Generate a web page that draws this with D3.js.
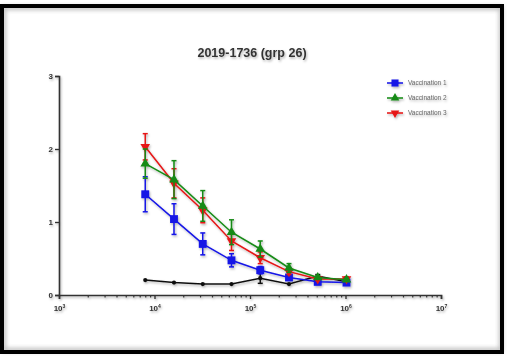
<!DOCTYPE html>
<html>
<head>
<meta charset="utf-8">
<script src="https://cdn.jsdelivr.net/npm/d3@7"></script>
<style>
  body { margin: 0; background: #fff; }
  svg { display: block; font-family: "Liberation Sans", Arial, sans-serif; }
</style>
</head>
<body>
<div id="chart"></div>
<script>
// dilutions (x values)
const dilutions = [8000, 16000, 32000, 64000, 128000, 256000, 512000, 1024000];

// series means and error (sd)
const vacc1 = [1.38, 1.04, 0.70, 0.475, 0.34, 0.24, 0.18, 0.17];
const vacc1Err = [0.24, 0.21, 0.15, 0.09, 0.05, 0.03, 0.02, 0.02];
const vacc2 = [1.80, 1.58, 1.22, 0.86, 0.63, 0.37, 0.24, 0.21];
const vacc2Err = [0.20, 0.26, 0.21, 0.17, 0.11, 0.06, 0.02, 0.02];
const vacc3 = [2.03, 1.53, 1.16, 0.74, 0.51, 0.32, 0.22, 0.22];
const vacc3Err = [0.18, 0.20, 0.17, 0.13, 0.08, 0.04, 0.02, 0.03];
const control = [0.205, 0.17, 0.15, 0.15, 0.23, 0.15, 0.26, 0.18];
const controlErr = [0, 0, 0, 0, 0.07, 0, 0.02, 0];

const xTicks = [1e3, 1e4, 1e5, 1e6, 1e7];
const yTicks = [0, 1, 2, 3];
const title = "2019-1736 (grp 26)";

const series = [
  { name: "Vaccination 1", values: vacc1, err: vacc1Err, color: "#1414e6", symbol: d3.symbolSquare, size: 62, legend: true },
  { name: "Vaccination 2", values: vacc2, err: vacc2Err, color: "#148a14", symbol: d3.symbolTriangle, size: 40, legend: true },
  { name: "Vaccination 3", values: vacc3, err: vacc3Err, color: "#e61414", symbol: d3.symbolTriangle, size: 40, flip: true, legend: true },
  { name: "Control", values: control, err: controlErr, color: "#111", symbol: d3.symbolCircle, size: 14, legend: false }
];

const width = 507, height = 356;
const svg = d3.select("#chart").append("svg")
  .attr("width", width).attr("height", height);

const defs = svg.append("defs");
const shadow = defs.append("filter").attr("id", "shadow")
  .attr("x", "-20%").attr("y", "-20%").attr("width", "140%").attr("height", "140%");
shadow.append("feGaussianBlur").attr("in", "SourceGraphic").attr("stdDeviation", 0.4).attr("result", "b");
shadow.append("feDropShadow").attr("in", "b").attr("dx", 1).attr("dy", 1.5)
  .attr("stdDeviation", 1.2).attr("flood-color", "#000").attr("flood-opacity", 0.3);

// frame with inner shading
const inner = defs.append("filter").attr("id", "inner");
inner.append("feGaussianBlur").attr("stdDeviation", 2);
svg.append("rect").attr("x", 4).attr("y", 8).attr("width", 497).attr("height", 342)
  .attr("fill", "none").attr("stroke", "#bbb").attr("stroke-width", 4).attr("filter", "url(#inner)");
svg.append("rect").attr("x", 2).attr("y", 6).attr("width", 500).attr("height", 346)
  .attr("fill", "none").attr("stroke", "#000").attr("stroke-width", 4);

const x = d3.scaleLog().domain([1e3, 1e7]).range([59, 441]);
const y = d3.scaleLinear().domain([0, 3]).range([295, 76]);

const g = svg.append("g").attr("filter", "url(#shadow)");

// title
g.append("text").attr("x", 252).attr("y", 57).attr("text-anchor", "middle")
  .attr("font-size", 12.5).attr("font-weight", "bold").attr("fill", "#333").text(title);

// y axis
const yAxis = g.append("g").attr("transform", `translate(${x(1e3)},0)`)
  .call(d3.axisLeft(y).tickValues(yTicks).tickSize(4).tickFormat(d3.format("d")));
yAxis.select(".domain").attr("stroke", "#333").attr("stroke-width", 1.6);
yAxis.selectAll(".tick line").attr("stroke", "#333").attr("stroke-width", 1.4);
yAxis.selectAll(".tick text").attr("font-size", 8).attr("font-weight", "bold").attr("fill", "#333").attr("x", -6);

// x axis with log minor ticks
const minor = [];
for (let e = 3; e < 7; e++) for (let m = 2; m < 10; m++) minor.push(m * Math.pow(10, e));
const xMinor = g.append("g").attr("transform", `translate(0,${y(0)})`)
  .call(d3.axisBottom(x).tickValues(minor).tickSize(2.5).tickFormat(""));
xMinor.select(".domain").remove();
xMinor.selectAll(".tick line").attr("stroke", "#333").attr("stroke-width", 1.2);

const xAxis = g.append("g").attr("transform", `translate(0,${y(0)})`)
  .call(d3.axisBottom(x).tickValues(xTicks).tickSize(4).tickFormat(""));
xAxis.select(".domain").attr("stroke", "#333").attr("stroke-width", 1.6);
xAxis.selectAll(".tick line").attr("stroke", "#333").attr("stroke-width", 1.4);
xAxis.selectAll(".tick").append("text")
  .attr("y", 16).attr("text-anchor", "middle").attr("font-size", 8).attr("font-weight", "bold").attr("fill", "#333")
  .each(function(d) {
    const t = d3.select(this);
    t.append("tspan").text("10");
    t.append("tspan").attr("font-size", 5).attr("dy", -3).text(String(Math.round(Math.log10(d))));
  });

// series drawing order: control first, then 1, 3, 2
const order = [series[3], series[0], series[2], series[1]];
const line = d3.line().x(d => x(d.x)).y(d => y(d.y));

order.forEach(s => {
  const pts = dilutions.map((d, i) => ({ x: d, y: s.values[i], e: s.err[i] }));
  const sg = g.append("g");
  sg.append("path").datum(pts).attr("d", line)
    .attr("fill", "none").attr("stroke", s.color).attr("stroke-width", 1.5);
  const eb = sg.selectAll(".eb").data(pts.filter(p => p.e > 0)).enter().append("g");
  eb.append("line").attr("x1", d => x(d.x)).attr("x2", d => x(d.x))
    .attr("y1", d => y(d.y - d.e)).attr("y2", d => y(d.y + d.e))
    .attr("stroke", s.color).attr("stroke-width", 1.5);
  [1, -1].forEach(k => {
    eb.append("line").attr("x1", d => x(d.x) - 2.5).attr("x2", d => x(d.x) + 2.5)
      .attr("y1", d => y(d.y + k * d.e)).attr("y2", d => y(d.y + k * d.e))
      .attr("stroke", s.color).attr("stroke-width", 1.5);
  });
  sg.selectAll(".pt").data(pts).enter().append("path")
    .attr("d", d3.symbol().type(s.symbol).size(s.size))
    .attr("transform", d => `translate(${x(d.x)},${y(d.y)})${s.flip ? " rotate(180)" : ""}`)
    .attr("fill", s.color);
});

// legend
const legend = g.append("g");
series.filter(s => s.legend).forEach((s, i) => {
  const ly = 83 + i * 15;
  legend.append("line").attr("x1", 387).attr("x2", 403).attr("y1", ly).attr("y2", ly)
    .attr("stroke", s.color).attr("stroke-width", 1.5);
  legend.append("path").attr("d", d3.symbol().type(s.symbol).size(s.size * 0.8))
    .attr("transform", `translate(395,${ly})${s.flip ? " rotate(180)" : ""}`).attr("fill", s.color);
  legend.append("text").attr("x", 408).attr("y", ly + 2.3).attr("font-size", 6.5)
    .attr("fill", "#666").text(s.name);
});
</script>
</body>
</html>
